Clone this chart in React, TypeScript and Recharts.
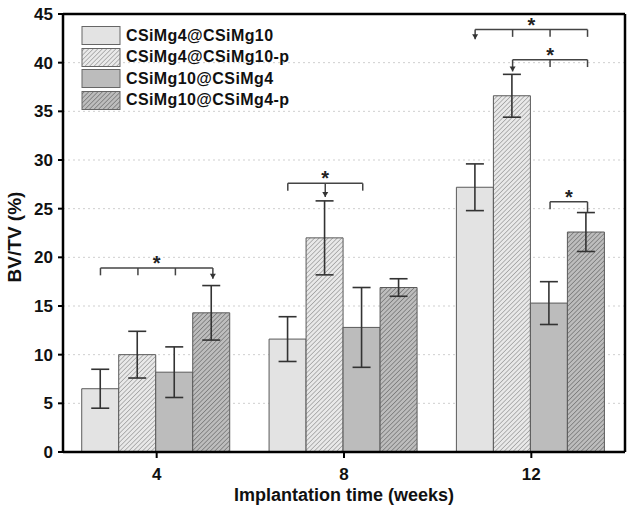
import React from "react";
import {
  BarChart,
  Bar,
  XAxis,
  YAxis,
  CartesianGrid,
  ErrorBar,
  ReferenceLine,
  ReferenceDot,
} from "recharts";

const weeks = ["4", "8", "12"];
const seriesNames = [
  "CSiMg4@CSiMg10",
  "CSiMg4@CSiMg10-p",
  "CSiMg10@CSiMg4",
  "CSiMg10@CSiMg4-p",
];
const mg4Mg10 = [6.5, 11.6, 27.2];
const mg4Mg10Err = [2.0, 2.3, 2.4];
const mg4Mg10P = [10.0, 22.0, 36.6];
const mg4Mg10PErr = [2.4, 3.8, 2.2];
const mg10Mg4 = [8.2, 12.8, 15.3];
const mg10Mg4Err = [2.6, 4.1, 2.2];
const mg10Mg4P = [14.3, 16.9, 22.6];
const mg10Mg4PErr = [2.8, 0.9, 2.0];
const yTicks = [0, 5, 10, 15, 20, 25, 30, 35, 40, 45];

// significance brackets: group index, bar span, height, arrow bar and tip
const bracketGroup = [0, 1, 2, 2, 2];
const bracketFrom = [0, 0, 0, 1, 2];
const bracketTo = [3, 2, 3, 3, 3];
const bracketY = [18.9, 27.6, 43.4, 40.3, 25.7];
const bracketArrowBar = [3, 1, 0, 1, 3];
const bracketArrowTip = [17.8, 26.2, 42.4, 39.1, 24.6];
const bracketHead = [true, true, true, true, false];

const FILLS = ["#e3e3e3", "url(#hatchLight)", "#bcbcbc", "url(#hatchDark)"];
const FONT = "'Liberation Sans', Arial, sans-serif";

const data = weeks.map((w, i) => ({
  week: w,
  idx: i + 0.5,
  s0: mg4Mg10[i],
  e0: mg4Mg10Err[i],
  s1: mg4Mg10P[i],
  e1: mg4Mg10PErr[i],
  s2: mg10Mg4[i],
  e2: mg10Mg4Err[i],
  s3: mg10Mg4P[i],
  e3: mg10Mg4PErr[i],
}));

// bar centre on the hidden numeric axis (each group spans 1 unit, bars 0.2 wide)
const barX = (g: number, b: number) => g + 0.2 + 0.2 * b;

function Patterns() {
  return (
    <defs>
      <pattern id="hatchLight" width="3.2" height="3.2" patternUnits="userSpaceOnUse" patternTransform="rotate(45)">
        <rect width="3.2" height="3.2" fill="#e9e9e9" />
        <line x1="0" y1="0" x2="0" y2="3.2" stroke="#7a7a7a" strokeWidth="1" />
      </pattern>
      <pattern id="hatchDark" width="3.2" height="3.2" patternUnits="userSpaceOnUse" patternTransform="rotate(45)">
        <rect width="3.2" height="3.2" fill="#bdbdbd" />
        <line x1="0" y1="0" x2="0" y2="3.2" stroke="#555" strokeWidth="1" />
      </pattern>
    </defs>
  );
}

function LegendBox() {
  return (
    <div
      style={{
        position: "absolute",
        left: 81,
        top: 25,
        fontFamily: FONT,
        fontWeight: "bold",
        fontSize: 16,
        color: "#111",
      }}
    >
      {seriesNames.map((n, i) => (
        <div key={n} style={{ display: "flex", alignItems: "center", height: 21.5 }}>
          <svg width={42} height={21}>
            <rect x={1} y={1.5} width={38} height={18} fill={FILLS[i]} stroke="#666" strokeWidth={1} />
          </svg>
          <span style={{ marginLeft: 3, letterSpacing: 0.4 }}>{n}</span>
        </div>
      ))}
    </div>
  );
}

const arrowHead = (props: any) => (
  <path d={`M${props.cx - 3},${props.cy - 5} L${props.cx + 3},${props.cy - 5} L${props.cx},${props.cy} Z`} fill="#333" />
);

const starMark = (props: any) => (
  <text x={props.cx} y={props.cy + 2} textAnchor="middle" fontFamily={FONT} fontWeight="bold" fontSize={20} fill="#222">
    *
  </text>
);

export default function App() {
  const lines: React.ReactNode[] = [];
  bracketGroup.forEach((g, k) => {
    const y = bracketY[k];
    const x0 = barX(g, bracketFrom[k]);
    const x1 = barX(g, bracketTo[k]);
    const stroke = { stroke: "#444", strokeWidth: 1.5, xAxisId: "num", ifOverflow: "visible" as const };
    lines.push(<ReferenceLine key={`h${k}`} segment={[{ x: x0, y }, { x: x1, y }]} {...stroke} />);
    for (let b = bracketFrom[k]; b <= bracketTo[k]; b++) {
      const x = barX(g, b);
      if (b === bracketArrowBar[k]) {
        lines.push(
          <ReferenceLine key={`a${k}`} segment={[{ x, y }, { x, y: bracketArrowTip[k] }]} {...stroke} />
        );
        if (bracketHead[k])
          lines.push(
            <ReferenceDot key={`ah${k}`} xAxisId="num" x={x} y={bracketArrowTip[k]} ifOverflow="visible" shape={arrowHead} />
          );
      } else {
        lines.push(
          <ReferenceLine key={`t${k}-${b}`} segment={[{ x, y }, { x, y: y - 0.75 }]} {...stroke} />
        );
      }
    }
    lines.push(
      <ReferenceDot key={`s${k}`} xAxisId="num" x={(x0 + x1) / 2} y={y} ifOverflow="visible" shape={starMark} />
    );
  });

  return (
    <div style={{ position: "absolute", left: 0, top: 0, width: 633, height: 509, background: "#fff" }}>
      <BarChart
        width={633}
        height={509}
        data={data}
        margin={{ top: 14, right: 8, bottom: 0, left: 0 }}
        barCategoryGap="10%"
        barGap={0}
      >
        <Patterns />
        <CartesianGrid horizontal vertical={false} stroke="#cfcfcf" strokeDasharray="2 3" />
        <XAxis
          dataKey="week"
          height={57}
          axisLine={{ stroke: "#000", strokeWidth: 2.5 }}
          tickLine={{ stroke: "#000", strokeWidth: 2 }}
          tickSize={6}
          tickMargin={10}
          tick={{ fill: "#111", fontSize: 17, fontWeight: "bold", fontFamily: FONT }}
          label={{
            content: ({ viewBox }: any) => (
              <text
                x={viewBox.x + viewBox.width / 2}
                y={501}
                textAnchor="middle"
                fontFamily={FONT}
                fontWeight="bold"
                fontSize={18}
                fill="#111"
              >
                Implantation time (weeks)
              </text>
            ),
          }}
        />
        <XAxis
          xAxisId="num"
          dataKey="idx"
          type="number"
          scale="linear"
          domain={[0, 3]}
          ticks={[0, 1, 2, 3]}
          hide
          allowDataOverflow
        />
        <YAxis
          width={63}
          domain={[0, 45]}
          ticks={yTicks}
          interval={0}
          axisLine={{ stroke: "#000", strokeWidth: 2.5 }}
          tickLine={{ stroke: "#000", strokeWidth: 2 }}
          tickSize={5}
          tickMargin={5}
          tick={{ fill: "#111", fontSize: 17, fontWeight: "bold", fontFamily: FONT }}
          label={{
            content: ({ viewBox }: any) => {
              const cx = 21;
              const cy = viewBox.y + viewBox.height / 2 + 4;
              return (
                <text
                  x={cx}
                  y={cy}
                  transform={`rotate(-90 ${cx} ${cy})`}
                  textAnchor="middle"
                  fontFamily={FONT}
                  fontWeight="bold"
                  fontSize={19}
                  fill="#111"
                >
                  BV/TV (%)
                </text>
              );
            },
          }}
        />
        {["s0", "s1", "s2", "s3"].map((key, i) => (
          <Bar
            key={key}
            dataKey={key}
            name={seriesNames[i]}
            fill={FILLS[i]}
            stroke="#5a5a5a"
            strokeWidth={1}
            isAnimationActive={false}
          >
            <ErrorBar dataKey={`e${i}`} width={9} stroke="#333" strokeWidth={1.6} />
          </Bar>
        ))}
        <ReferenceLine y={45} stroke="#000" strokeWidth={2.5} />
        <ReferenceLine xAxisId="num" x={3} stroke="#000" strokeWidth={2.5} ifOverflow="visible" />
        {lines}
      </BarChart>
      <LegendBox />
    </div>
  );
}
